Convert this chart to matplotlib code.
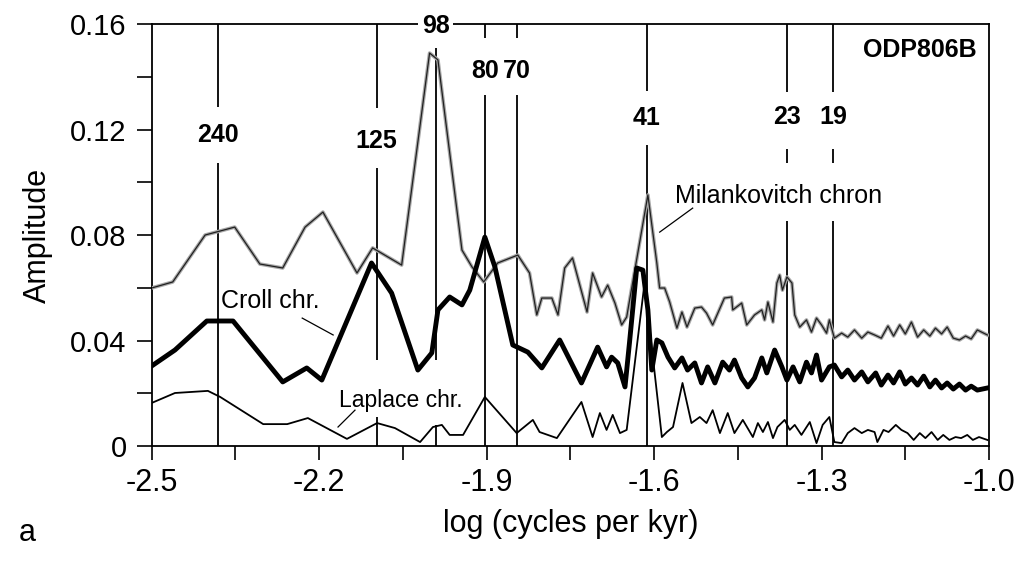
import numpy as np
import matplotlib
matplotlib.use("Agg")
import matplotlib.pyplot as plt
from matplotlib.ticker import FixedLocator

plt.rcParams['font.family'] = ['Liberation Sans', 'DejaVu Sans']

# amplitude spectra, x = log10(cycles per kyr)
milank_x = [-2.500, -2.462, -2.404, -2.351, -2.306, -2.265, -2.225, -2.193, -2.132, -2.104,
            -2.052, -2.002, -1.987, -1.944, -1.926, -1.905, -1.880, -1.844, -1.823, -1.810,
            -1.801, -1.783, -1.772, -1.760, -1.746, -1.720, -1.710, -1.694, -1.683, -1.670,
            -1.658, -1.649, -1.611, -1.595, -1.590, -1.581, -1.572, -1.559, -1.550, -1.541,
            -1.527, -1.515, -1.506, -1.495, -1.474, -1.461, -1.459, -1.443, -1.434, -1.420,
            -1.407, -1.402, -1.396, -1.387, -1.380, -1.375, -1.370, -1.362, -1.353, -1.348,
            -1.339, -1.327, -1.318, -1.309, -1.300, -1.291, -1.286, -1.277, -1.264, -1.253,
            -1.241, -1.228, -1.217, -1.205, -1.193, -1.181, -1.171, -1.160, -1.150, -1.139,
            -1.128, -1.117, -1.106, -1.096, -1.085, -1.075, -1.064, -1.053, -1.042, -1.032,
            -1.021, -1.003]
milank_y = [0.0599, 0.0622, 0.0800, 0.0830, 0.0690, 0.0675, 0.0830, 0.0887, 0.0656, 0.0751,
            0.0686, 0.1490, 0.1464, 0.0743, 0.0679, 0.0622, 0.0694, 0.0724, 0.0656, 0.0497,
            0.0561, 0.0561, 0.0497, 0.0675, 0.0713, 0.0508, 0.0656, 0.0565, 0.0610, 0.0542,
            0.0459, 0.0489, 0.0952, 0.0694, 0.0599, 0.0599, 0.0546, 0.0447, 0.0508, 0.0451,
            0.0523, 0.0527, 0.0504, 0.0459, 0.0561, 0.0565, 0.0516, 0.0542, 0.0459, 0.0497,
            0.0516, 0.0478, 0.0546, 0.0470, 0.0618, 0.0648, 0.0591, 0.0641, 0.0618, 0.0497,
            0.0451, 0.0478, 0.0432, 0.0485, 0.0459, 0.0428, 0.0478, 0.0409, 0.0428, 0.0413,
            0.0440, 0.0409, 0.0432, 0.0421, 0.0409, 0.0455, 0.0417, 0.0459, 0.0425, 0.0470,
            0.0413, 0.0440, 0.0417, 0.0447, 0.0425, 0.0451, 0.0409, 0.0402, 0.0417, 0.0406,
            0.0440, 0.0421]

croll_x = [-2.500, -2.458, -2.401, -2.354, -2.265, -2.222, -2.195, -2.106, -2.070, -2.023,
           -1.998, -1.987, -1.966, -1.944, -1.930, -1.903, -1.885, -1.853, -1.826, -1.801,
           -1.769, -1.730, -1.701, -1.685, -1.676, -1.665, -1.652, -1.644, -1.631, -1.620,
           -1.611, -1.604, -1.595, -1.586, -1.575, -1.563, -1.550, -1.540, -1.527, -1.515,
           -1.504, -1.491, -1.477, -1.465, -1.456, -1.443, -1.432, -1.420, -1.407, -1.398,
           -1.384, -1.371, -1.362, -1.351, -1.339, -1.327, -1.318, -1.309, -1.300, -1.286,
           -1.277, -1.264, -1.253, -1.241, -1.228, -1.217, -1.203, -1.193, -1.181, -1.171,
           -1.160, -1.150, -1.139, -1.128, -1.117, -1.106, -1.096, -1.085, -1.075, -1.064,
           -1.053, -1.042, -1.032, -1.021, -1.003]
croll_y = [0.0303, 0.0364, 0.0474, 0.0474, 0.0243, 0.0296, 0.0250, 0.0694, 0.0580, 0.0288,
           0.0353, 0.0516, 0.0565, 0.0535, 0.0591, 0.0792, 0.0679, 0.0383, 0.0356, 0.0296,
           0.0402, 0.0239, 0.0375, 0.0300, 0.0337, 0.0315, 0.0224, 0.0391, 0.0675, 0.0667,
           0.0516, 0.0288, 0.0402, 0.0391, 0.0337, 0.0296, 0.0334, 0.0288, 0.0315, 0.0239,
           0.0300, 0.0239, 0.0318, 0.0288, 0.0326, 0.0258, 0.0224, 0.0258, 0.0334, 0.0277,
           0.0364, 0.0300, 0.0250, 0.0300, 0.0243, 0.0318, 0.0277, 0.0345, 0.0250, 0.0300,
           0.0307, 0.0262, 0.0288, 0.0250, 0.0281, 0.0243, 0.0277, 0.0231, 0.0269, 0.0239,
           0.0281, 0.0235, 0.0258, 0.0231, 0.0265, 0.0224, 0.0250, 0.0220, 0.0239, 0.0216,
           0.0235, 0.0212, 0.0227, 0.0212, 0.0220]

laplace_x = [-2.500, -2.458, -2.399, -2.377, -2.300, -2.257, -2.220, -2.150, -2.096, -2.064,
             -2.019, -1.996, -1.980, -1.966, -1.942, -1.903, -1.846, -1.817, -1.805, -1.774,
             -1.730, -1.710, -1.697, -1.685, -1.674, -1.661, -1.649, -1.617, -1.586, -1.577,
             -1.566, -1.549, -1.533, -1.518, -1.506, -1.495, -1.482, -1.468, -1.456, -1.441,
             -1.423, -1.414, -1.405, -1.396, -1.387, -1.379, -1.366, -1.357, -1.348, -1.336,
             -1.321, -1.309, -1.298, -1.286, -1.277, -1.264, -1.253, -1.241, -1.228, -1.217,
             -1.205, -1.200, -1.189, -1.180, -1.167, -1.157, -1.146, -1.135, -1.124, -1.114,
             -1.103, -1.092, -1.082, -1.071, -1.060, -1.050, -1.039, -1.029, -1.018, -1.003]
laplace_y = [0.0163, 0.0201, 0.0209, 0.0186, 0.0083, 0.0083, 0.0106, 0.0027, 0.0087, 0.0068,
             0.0015, 0.0072, 0.0080, 0.0042, 0.0042, 0.0186, 0.0049, 0.0099, 0.0053, 0.0030,
             0.0167, 0.0034, 0.0125, 0.0061, 0.0118, 0.0049, 0.0061, 0.0618, 0.0034, 0.0053,
             0.0072, 0.0239, 0.0087, 0.0110, 0.0087, 0.0136, 0.0049, 0.0125, 0.0049, 0.0099,
             0.0034, 0.0087, 0.0053, 0.0091, 0.0030, 0.0072, 0.0099, 0.0061, 0.0080, 0.0042,
             0.0091, 0.0011, 0.0080, 0.0110, 0.0015, 0.0011, 0.0049, 0.0068, 0.0049, 0.0061,
             0.0053, 0.0015, 0.0061, 0.0053, 0.0080, 0.0061, 0.0049, 0.0023, 0.0049, 0.0030,
             0.0053, 0.0023, 0.0042, 0.0023, 0.0034, 0.0030, 0.0042, 0.0023, 0.0034, 0.0023]

# orbital periods (kyr) marked on the spectrum
periods = [240, 125, 98, 80, 70, 41, 23, 19]
# label heights and line segments (amplitude units) around each label
label_y = [0.1179, 0.1156, 0.1592, 0.1422, 0.1422, 0.1244, 0.1247, 0.1247]
segments = [
    [(0.1285, 0.16), (0, 0.1073)],
    [(0.128, 0.16), (0.0326, 0.1054), (0, 0.0110)],
    [(0.0326, 0.1509), (0, 0.0080)],
    [(0.1547, 0.16), (0, 0.1331)],
    [(0.1547, 0.16), (0, 0.1331)],
    [(0.1346, 0.16), (0, 0.1141)],
    [(0.1342, 0.16), (0.1073, 0.1125), (0, 0.0853)],
    [(0.1342, 0.16), (0.1073, 0.1125), (0, 0.0853)],
]

x_ticks = [-2.5, -2.2, -1.9, -1.6, -1.3, -1.0]
x_minor = [-2.35, -2.05, -1.75, -1.45, -1.15]
y_ticks = [0, 0.04, 0.08, 0.12, 0.16]
y_minor = [0.02, 0.06, 0.10, 0.14]
x_labels = ['-2.5', '-2.2', '-1.9', '-1.6', '-1.3', '-1.0']
y_labels = ['0', '0.04', '0.08', '0.12', '0.16']

fig = plt.figure(figsize=(10.19, 5.64), dpi=100)
ax = fig.add_axes([0.1487, 0.2092, 0.8219, 0.7482])

for p, segs, ly in zip(periods, segments, label_y):
    xp = np.log10(1.0 / p)
    for y0, y1 in segs:
        ax.plot([xp, xp], [y0, y1], color='black', lw=1.3, zorder=1,
                solid_capstyle='butt', clip_on=False)
    ax.text(xp, ly, str(p), ha='center', va='center', fontsize=18,
            fontweight='bold', zorder=6, clip_on=False,
            bbox=dict(facecolor='white', edgecolor='none', pad=2.5) if p == 98 else None)

# spectra
ax.plot(milank_x, milank_y, color='#a8a8a8', lw=2.6, zorder=3)
ax.plot(milank_x, milank_y, color='#202020', lw=0.9, zorder=3)
ax.plot(croll_x, croll_y, color='black', lw=3.5, zorder=4, solid_joinstyle='round')
ax.plot(laplace_x, laplace_y, color='black', lw=1.3, zorder=3)

# curve names with leader lines
ax.text(-2.3756, 0.0523, 'Croll chr.', fontsize=18, va='baseline', ha='left', zorder=5)
ax.plot([-2.2301, -2.1747], [0.0485, 0.0421], color='black', lw=0.9, zorder=5)
ax.text(-2.1640, 0.0148, 'Laplace chr.', fontsize=16.5, va='baseline', ha='left', zorder=5)
ax.plot([-2.1356, -2.1660], [0.0136, 0.0072], color='black', lw=0.9, zorder=5)
ax.text(-1.563, 0.0921, 'Milankovitch chron', fontsize=18, va='baseline', ha='left', zorder=5)
ax.plot([-1.5308, -1.5899], [0.0902, 0.0811], color='black', lw=0.9, zorder=5)

ax.text(0.9857, 0.938, 'ODP806B', transform=ax.transAxes, ha='right', va='center',
        fontsize=18, fontweight='bold')

ax.set_xlim(-2.5, -1.0)
ax.set_ylim(0, 0.16)
ax.xaxis.set_major_locator(FixedLocator(x_ticks))
ax.xaxis.set_minor_locator(FixedLocator(x_minor))
ax.yaxis.set_major_locator(FixedLocator(y_ticks))
ax.yaxis.set_minor_locator(FixedLocator(y_minor))
ax.set_xticklabels(x_labels)
ax.set_yticklabels(y_labels)
ax.tick_params(axis='x', which='both', direction='out', length=10, width=1.2,
               labelsize=22, pad=6)
ax.tick_params(axis='y', which='both', direction='out', length=11, width=1.2,
               labelsize=21, pad=7)
for s in ax.spines.values():
    s.set_linewidth(1.3)

ax.set_xlabel('log (cycles per kyr)', fontsize=22, labelpad=8)
ax.set_ylabel('Amplitude', fontsize=22, labelpad=12)
fig.text(0.018, 0.04, 'a', fontsize=22, ha='left', va='baseline')

fig.savefig('out.png', dpi=100)
